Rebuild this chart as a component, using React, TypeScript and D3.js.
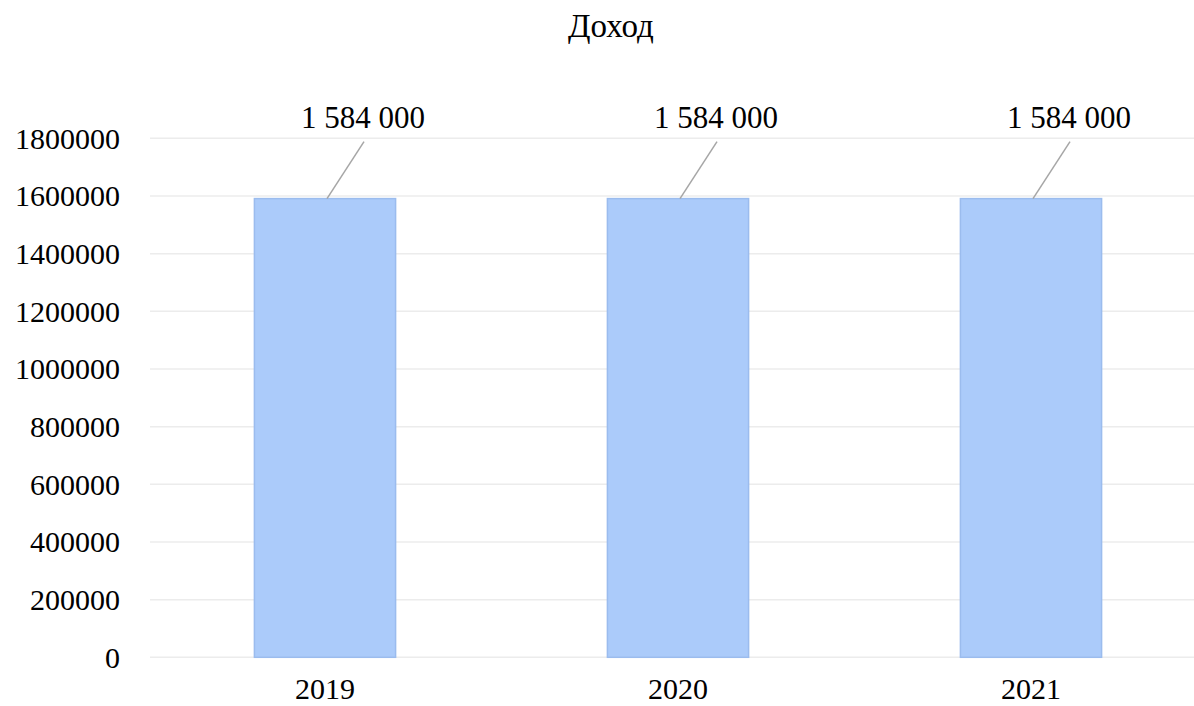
import React from "react";
import * as d3 from "d3";

const categories = ["2019", "2020", "2021"];
const values = [1584000, 1584000, 1584000];
const yTicks = [0, 200000, 400000, 600000, 800000, 1000000, 1200000, 1400000, 1600000, 1800000];
const title = "Доход";

const width = 1194;
const height = 706;
const font = "Liberation Serif";

const x = d3.scaleBand().domain(categories).range([148.5, 1207.5]).paddingInner(0.6).paddingOuter(0.3);
const y = d3.scaleLinear().domain([0, 1800000]).range([657.3, 138.3]);
const fmt = (v: number) => d3.format(",")(v).replace(/,/g, " ");

const App: React.FC = () => {
  return (
    <div style={{ position: "fixed", left: 0, top: 0, width, height, background: "#fff", overflow: "hidden" }}>
      <svg width={width} height={height} style={{ display: "block" }}>
        <text x={611} y={37} textAnchor="middle" fontFamily={font} fontSize={33} fill="#000">
          {title}
        </text>

        {/* grid */}
        {yTicks.map((t) => (
          <line key={t} x1={150} x2={width} y1={y(t)} y2={y(t)} stroke="#ececec" strokeWidth={1.5} />
        ))}

        {/* y labels */}
        {yTicks.map((t) => (
          <text key={t} x={120} y={y(t)} dy="0.35em" textAnchor="end" fontFamily={font} fontSize={30} fill="#000">
            {String(t)}
          </text>
        ))}

        {/* bars */}
        {values.map((v, i) => (
          <rect
            key={categories[i]}
            x={x(categories[i])}
            width={x.bandwidth()}
            y={y(v) - 2}
            height={y(0) - y(v) + 2}
            fill="#abcbfa"
            stroke="#9bbcee"
            strokeWidth={1.5}
          />
        ))}

        {/* x labels */}
        {categories.map((c) => (
          <text key={c} x={x(c)! + x.bandwidth() / 2} y={699} textAnchor="middle" fontFamily={font} fontSize={30} fill="#000">
            {c}
          </text>
        ))}

        {/* data labels with leader lines */}
        {values.map((v, i) => {
          const cx = x(categories[i])! + x.bandwidth() / 2;
          const top = y(v) - 2;
          return (
            <g key={categories[i]}>
              <line x1={cx + 2} y1={top} x2={cx + 39} y2={top - 57} stroke="#a6a6a6" strokeWidth={1.5} />
              <text x={cx + 38} y={top - 71} textAnchor="middle" fontFamily={font} fontSize={31} fill="#000">
                {fmt(v)}
              </text>
            </g>
          );
        })}
      </svg>
    </div>
  );
};

export default App;
